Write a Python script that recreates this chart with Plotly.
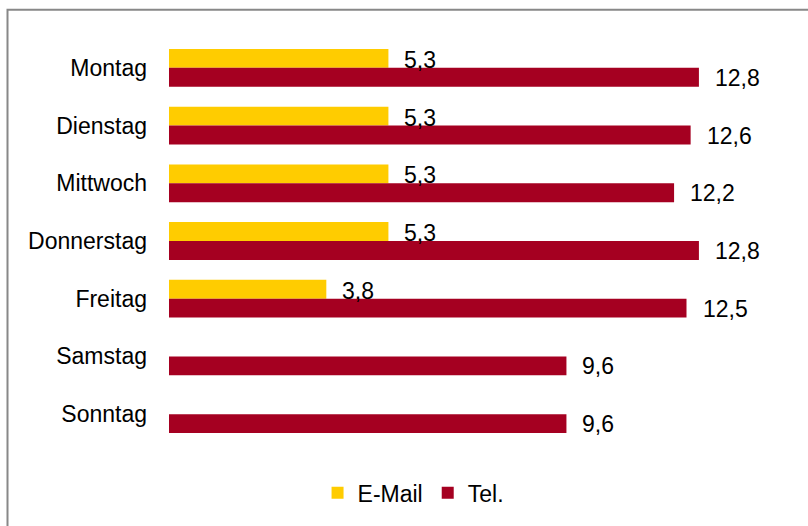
import plotly.graph_objects as go

days = ["Montag", "Dienstag", "Mittwoch", "Donnerstag", "Freitag", "Samstag", "Sonntag"]
email = [5.3, 5.3, 5.3, 5.3, 3.8, None, None]
tel = [12.8, 12.6, 12.2, 12.8, 12.5, 9.6, 9.6]

YELLOW = "#FFCC00"
RED = "#A50021"
FONT = "Liberation Sans, Arial, sans-serif"
FS = 23

fig = go.Figure()
fig.add_trace(go.Bar(y=days, x=email, name="E-Mail", orientation="h",
                     marker=dict(color=YELLOW, line=dict(width=0))))
fig.add_trace(go.Bar(y=days, x=tel, name="Tel.", orientation="h",
                     marker=dict(color=RED, line=dict(width=0))))

def fmt(v):
    return f"{v:.1f}".replace(".", ",")

annotations = []
for d, v in zip(days, email):
    if v is not None:
        annotations.append(dict(x=v, y=d, text=fmt(v), xref="x", yref="y",
                                xanchor="left", yanchor="middle", showarrow=False,
                                xshift=14, yshift=8, font=dict(size=FS, color="#000", family=FONT)))
for d, v in zip(days, tel):
    annotations.append(dict(x=v, y=d, text=fmt(v), xref="x", yref="y",
                            xanchor="left", yanchor="middle", showarrow=False,
                            xshift=14, yshift=-10, font=dict(size=FS, color="#000", family=FONT)))

fig.update_layout(
    width=808, height=526,
    margin=dict(l=169, r=18, t=39, b=81),
    paper_bgcolor="white", plot_bgcolor="white",
    barmode="group", bargap=0.345, bargroupgap=0,
    font=dict(family=FONT, size=FS, color="#000"),
    showlegend=True,
    legend=dict(orientation="h", x=0.393, xanchor="center", y=-0.123, yanchor="middle",
                font=dict(size=FS), itemwidth=30, traceorder="normal"),
    annotations=annotations,
    xaxis=dict(range=[0, 15], visible=False, showgrid=False, zeroline=False),
    yaxis=dict(autorange="reversed", showgrid=False, zeroline=False, showline=False,
               ticks="", ticklabelstandoff=21, tickfont=dict(size=FS)),
    shapes=[dict(type="rect", xref="paper", yref="paper",
                 x0=(7.5 - 169) / 621, x1=(820 - 169) / 621,
                 y0=(445 - 540) / 406, y1=(445 - 9.5) / 406,
                 line=dict(color="#888888", width=2), fillcolor="rgba(0,0,0,0)", layer="below")],
)

fig.write_html("out.html", config={"displayModeBar": False},
               post_script="document.body.style.margin='0';document.body.style.overflow='hidden';")
